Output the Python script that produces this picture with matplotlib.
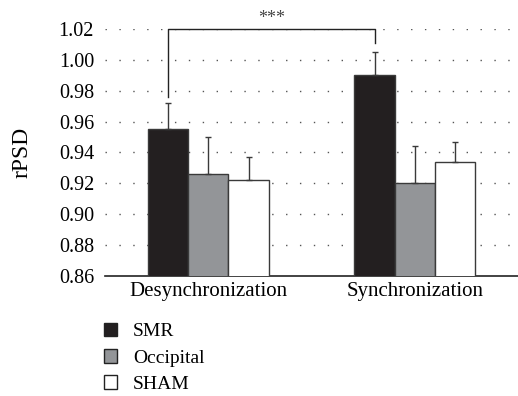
import matplotlib
matplotlib.use("Agg")
import matplotlib.pyplot as plt
import numpy as np
from matplotlib.patches import Patch

plt.rcParams["font.family"] = ["Liberation Serif", "DejaVu Serif"]

CONDITIONS = ["Desynchronization", "Synchronization"]
GROUPS = ["SMR", "Occipital", "SHAM"]
MEANS = {
    "SMR": [0.955, 0.990],
    "Occipital": [0.926, 0.920],
    "SHAM": [0.922, 0.934],
}
ERRORS = {
    "SMR": [0.017, 0.015],
    "Occipital": [0.024, 0.024],
    "SHAM": [0.015, 0.013],
}
COLORS = {"SMR": "#231f20", "Occipital": "#939598", "SHAM": "#ffffff"}
YTICKS = [0.86, 0.88, 0.90, 0.92, 0.94, 0.96, 0.98, 1.00, 1.02]

# significance bracket between the two SMR bars
BRACKET_TOP = 1.02
BRACKET_LEFT_END = 0.976
BRACKET_RIGHT_END = 1.011
SIG_LABEL = "***"

fig = plt.figure(figsize=(5.18, 3.96), dpi=100)
ax = fig.add_axes([0.203, 0.303, 0.797, 0.624])

x = np.arange(len(CONDITIONS))
width = 0.195
edge = "#3a3a3a"

for i, g in enumerate(GROUPS):
    pos = x + (i - 1) * width
    ax.bar(pos, MEANS[g], width=width, bottom=0, color=COLORS[g],
           edgecolor=edge, linewidth=1.0, zorder=3)
    ax.errorbar(pos, MEANS[g], yerr=[np.zeros(len(x)), ERRORS[g]], fmt="none",
                ecolor=edge, elinewidth=1.0, capsize=2.5, capthick=1.0, zorder=4)

# dotted horizontal grid
for yv in YTICKS[1:]:
    ax.axhline(yv, color="#555555", linewidth=1.0, linestyle=(0, (1, 9)), zorder=1)

ax.set_xlim(-0.5, 1.5)
ax.set_ylim(0.86, 1.02)
ax.set_yticks(YTICKS)
ax.set_yticklabels([f"{v:.2f}" for v in YTICKS], fontsize=14.5)
ax.set_xticks(x)
ax.set_xticklabels(CONDITIONS, fontsize=15)
ax.tick_params(axis="y", length=0, pad=8)
ax.tick_params(axis="x", length=0, pad=4)
for s in ["top", "right", "left"]:
    ax.spines[s].set_visible(False)
ax.spines["bottom"].set_linewidth(1.2)
ax.spines["bottom"].set_color("#222222")
ax.set_ylabel("rPSD", fontsize=17, labelpad=19)

# bracket
xl = x[0] - width
xr = x[1] - width
ax.plot([xl, xl, xr, xr], [BRACKET_LEFT_END, BRACKET_TOP, BRACKET_TOP, BRACKET_RIGHT_END],
        color="#222222", linewidth=1.0, clip_on=False, zorder=5)
ax.text((xl + xr) / 2, BRACKET_TOP + 0.0012, SIG_LABEL, ha="center", va="bottom",
        fontsize=13, color="#444444")

handles = [Patch(facecolor=COLORS[g], edgecolor="#222222", linewidth=1.0, label=g)
           for g in GROUPS]
fig.legend(handles=handles, loc="upper left", bbox_to_anchor=(0.185, 0.205),
           frameon=False, fontsize=14, handlelength=0.7, handleheight=0.7,
           handletextpad=0.8, labelspacing=0.45, borderaxespad=0)

fig.savefig("out.png", dpi=100)
